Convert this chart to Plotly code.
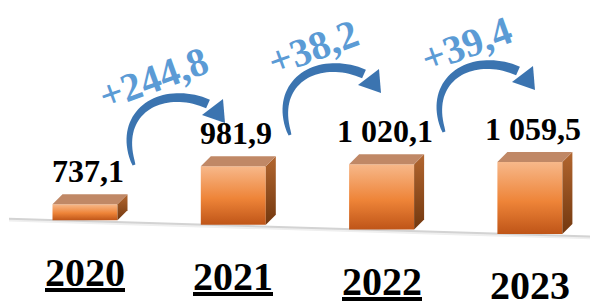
import numpy as np
import plotly.graph_objects as go

# ---------------- data ----------------
YEARS = ["2020", "2021", "2022", "2023"]
VALUES = [737.1, 981.9, 1020.1, 1059.5]
UNDERLINED = [True, True, True, False]

# ---------------- layout / style constants ----------------
W, H = 598, 304
OFF = 8                                # page body margin (px) the figure sits in
X0_PX, STEP_PX = 85.0, 148.3           # window pixel x of first category, spacing
FLOOR_PX = 220.3                       # window pixel y of floor under first bar
TILT_PX = 4.54                         # floor drop per category (pixels)
PX_PER_UNIT = 0.1737                   # vertical scale (pixels per value unit)
FLOOR_VALUE = 645.0                    # value at which the floor sits
BAR_W_PX, DEPTH_PX = 65.0, 10.0

FRONT_SCALE = [[0, "#BF5518"], [0.45, "#EE8438"], [1, "#F7B88A"]]
SIDE_SCALE = [[0, "#73380F"], [1, "#B2662F"]]
TOP_COLOR = "#C08866"
ARROW_COLOR = "#3B74B0"
DELTA_COLOR = "#5B9BD5"
SERIF = "Liberation Serif, Times New Roman, serif"


def xu(px):
    return px / STEP_PX


def yu(px):
    return px / PX_PER_UNIT


def tilt(x):
    return yu(TILT_PX) * x


def fmt(v):
    return f"{v:,.1f}".replace(",", " ").replace(".", ",")


fig = go.Figure()

hw, dx, dy = xu(BAR_W_PX / 2), xu(DEPTH_PX), yu(DEPTH_PX)
x0f = X0_PX - OFF
floorf = FLOOR_PX - OFF

# floor line
fx = np.array([xu(9 - X0_PX), xu(W + OFF - X0_PX)])
fy = FLOOR_VALUE - tilt(fx) - yu(0.8)
fig.add_trace(go.Scatter(x=fx, y=fy - yu(1.3), mode="lines",
                         line=dict(color="#EFEFEF", width=3), hoverinfo="skip"))
fig.add_trace(go.Scatter(x=fx, y=fy, mode="lines",
                         line=dict(color="#D3D3D3", width=2), hoverinfo="skip"))

annotations = []
for i, (yr, v, ul) in enumerate(zip(YEARS, VALUES, UNDERLINED)):
    base = FLOOR_VALUE - tilt(i)
    top = v - tilt(i)
    # front face
    fig.add_trace(go.Scatter(
        x=[i - hw, i + hw, i + hw, i - hw, i - hw],
        y=[base, base, top, top, base],
        mode="lines", line=dict(width=0), fill="toself",
        fillgradient=dict(type="vertical", colorscale=FRONT_SCALE),
        hoverinfo="skip"))
    # side face
    fig.add_trace(go.Scatter(
        x=[i + hw, i + hw + dx, i + hw + dx, i + hw, i + hw],
        y=[base, base + dy, top + dy, top, base],
        mode="lines", line=dict(width=0), fill="toself",
        fillgradient=dict(type="vertical", colorscale=SIDE_SCALE),
        hoverinfo="skip"))
    # top face
    fig.add_trace(go.Scatter(
        x=[i - hw, i + hw, i + hw + dx, i - hw + dx, i - hw],
        y=[top, top, top + dy, top + dy, top],
        mode="lines", line=dict(width=0), fill="toself",
        fillcolor=TOP_COLOR, hoverinfo="skip"))
    # value label
    annotations.append(dict(
        x=i + xu(3), y=top + dy, xref="x", yref="y", text=f"<b>{fmt(v)}</b>",
        showarrow=False, yanchor="bottom", xanchor="center", yshift=3,
        font=dict(family=SERIF, size=32, color="black")))
    # year label
    txt = f"<b>{yr}</b>"
    if ul:
        txt = f"<u>{txt}</u>"
    annotations.append(dict(
        x=i, y=base, xref="x", yref="y", text=txt, showarrow=False,
        yanchor="middle", xanchor="center", yshift=-52,
        font=dict(family=SERIF, size=40, color="black")))

# deltas between years
DELTA_POS = [(153, 78), (313, 48), (466, 44)]
for k in range(len(VALUES) - 1):
    d = VALUES[k + 1] - VALUES[k]
    px, py = DELTA_POS[k]
    annotations.append(dict(
        x=(px - OFF) / W, y=1 - (py - OFF) / H, xref="paper", yref="paper",
        text="<b>+" + fmt(d) + "</b>", showarrow=False, textangle=-20,
        xanchor="center", yanchor="middle",
        font=dict(family=SERIF, size=40, color=DELTA_COLOR)))


# curved arrows (decoration)
def bez(p, t):
    p0, p1, p2, p3 = [np.array(q, float) for q in p]
    t = t[:, None]
    pts = ((1 - t) ** 3) * p0 + 3 * ((1 - t) ** 2) * t * p1 + 3 * (1 - t) * t * t * p2 + t ** 3 * p3
    der = 3 * ((1 - t) ** 2) * (p1 - p0) + 6 * (1 - t) * t * (p2 - p1) + 3 * t * t * (p3 - p2)
    return pts, der


def to_path(pts):
    segs = [f"{'M' if j == 0 else 'L'}{(x - OFF) / W:.5f},{1 - (y - OFF) / H:.5f}"
            for j, (x, y) in enumerate(pts)]
    return " ".join(segs) + " Z"


CTRL = [(134, 165), (114, 112), (162, 84), (208, 104)]
HEAD = [(202, 115), (225, 123), (223, 99)]
ARROW_OFFS = [(0, 0), (156, -30), (310, -33)]
shapes = []
for ox, oy in ARROW_OFFS:
    ctrl = [(x + ox, y + oy) for x, y in CTRL]
    t = np.linspace(0, 1, 40)
    pts, der = bez(ctrl, t)
    nrm = np.stack([-der[:, 1], der[:, 0]], axis=1)
    nrm /= np.linalg.norm(nrm, axis=1, keepdims=True)
    wdt = (3 + 6.5 * np.sqrt(t))[:, None] / 2
    left = pts + nrm * wdt
    right = pts - nrm * wdt
    poly = np.vstack([left, right[::-1]])
    shapes.append(dict(type="path", xref="paper", yref="paper", path=to_path(poly),
                       fillcolor=ARROW_COLOR, line=dict(width=0), layer="above"))
    head = [(x + ox, y + oy) for x, y in HEAD]
    shapes.append(dict(type="path", xref="paper", yref="paper", path=to_path(head),
                       fillcolor=ARROW_COLOR, line=dict(width=0), layer="above"))

fig.update_layout(
    width=W, height=H, margin=dict(l=0, r=0, t=0, b=0),
    paper_bgcolor="white", plot_bgcolor="white", showlegend=False,
    xaxis=dict(range=[xu(-x0f), xu(W - x0f)], visible=False, fixedrange=True),
    yaxis=dict(range=[FLOOR_VALUE - yu(H - floorf), FLOOR_VALUE + yu(floorf)],
               visible=False, fixedrange=True),
    annotations=annotations, shapes=shapes,
)

fig.write_html("out.html")
